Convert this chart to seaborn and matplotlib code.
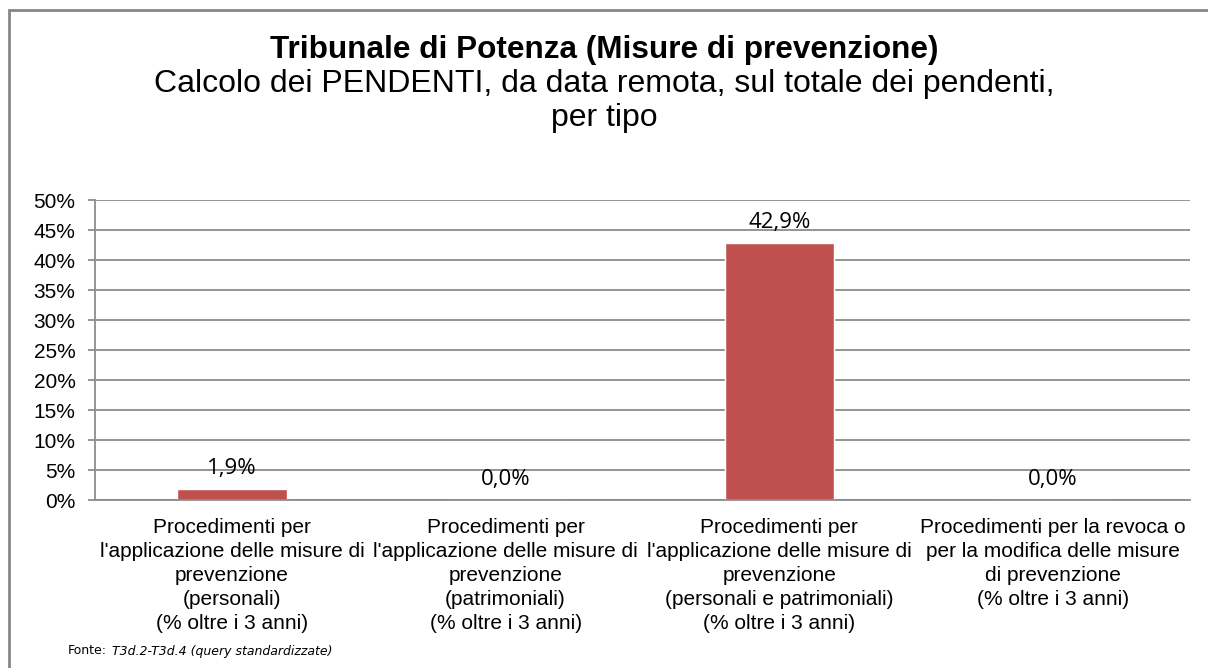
import matplotlib
matplotlib.use("Agg")
import matplotlib.pyplot as plt
import numpy as np
import pandas as pd
import seaborn as sns
from matplotlib.patches import Rectangle

categories = [
    "Procedimenti per\nl'applicazione delle misure di\nprevenzione\n(personali)\n(% oltre i 3 anni)",
    "Procedimenti per\nl'applicazione delle misure di\nprevenzione\n(patrimoniali)\n(% oltre i 3 anni)",
    "Procedimenti per\nl'applicazione delle misure di\nprevenzione\n(personali e patrimoniali)\n(% oltre i 3 anni)",
    "Procedimenti per la revoca o\nper la modifica delle misure\ndi prevenzione\n(% oltre i 3 anni)",
]
values = [1.9, 0.0, 42.9, 0.0]
value_labels = ["1,9%", "0,0%", "42,9%", "0,0%"]
yticks = [0, 5, 10, 15, 20, 25, 30, 35, 40, 45, 50]

sns.set_theme(style="white")
plt.rcParams["font.family"] = ["Liberation Sans", "DejaVu Sans"]
plt.rcParams["text.color"] = "black"
plt.rcParams["xtick.color"] = "black"
plt.rcParams["ytick.color"] = "black"

W, H = 1208, 668
fig = plt.figure(figsize=(W / 100, H / 100), dpi=100)
# chart frame (runs off the right and bottom edges in the reference)
fig.patches.append(Rectangle((9 / W, -0.05), 1.2, 1.05 - 10 / H, transform=fig.transFigure,
                             fill=False, edgecolor="#868686", linewidth=2))

ax = fig.add_axes([95 / W, (H - 500) / H, (1190 - 95) / W, 300 / H])
df = pd.DataFrame({"cat": categories, "val": values})
sns.barplot(data=df, x="cat", y="val", color="#C0504D", width=0.4, saturation=1, ax=ax)

ax.set_ylim(0, 50)
ax.set_xlim(-0.5, 3.5)
ax.set_yticks(yticks)
ax.set_yticklabels([f"{t}%" for t in yticks], fontsize=15)
ax.yaxis.grid(True, color="#8c8c8c", linewidth=1.3)
ax.set_axisbelow(True)
ax.set_xlabel("")
ax.set_ylabel("")
for s in ["top", "right"]:
    ax.spines[s].set_visible(False)
for s in ["left", "bottom"]:
    ax.spines[s].set_color("#8c8c8c")
    ax.spines[s].set_linewidth(1.3)

ax.set_xticks([0, 1, 2, 3])
ax.set_xticklabels(categories, fontsize=15, linespacing=1.33)
ax.tick_params(axis="x", length=0, pad=13)
ax.set_xticks([-0.5, 0.5, 1.5, 2.5, 3.5], minor=True)
ax.tick_params(axis="x", which="minor", length=6, color="#8c8c8c", width=1.3)
ax.tick_params(axis="y", length=5, color="#8c8c8c", width=1.3, pad=9, left=True)

for i, (v, lab) in enumerate(zip(values, value_labels)):
    ax.annotate(lab, (i, v), xytext=(0, 7), textcoords="offset points",
                ha="center", va="bottom", fontsize=16,
                family=["Open Sans", "DejaVu Sans"])

fig.text(0.5, 1 - 50 / H, "Tribunale di Potenza (Misure di prevenzione)",
         ha="center", va="center", fontsize=22.7, fontweight="bold")
fig.text(0.5, 1 - 84 / H, "Calcolo dei PENDENTI, da data remota, sul totale dei pendenti,",
         ha="center", va="center", fontsize=23)
fig.text(0.5, 1 - 118 / H, "per tipo", ha="center", va="center", fontsize=23)

fig.text(68 / W, 1 - 651 / H, "Fonte:", ha="left", va="center", fontsize=9,
         family=["DejaVu Sans"])
fig.text(112 / W, 1 - 651 / H, "T3d.2-T3d.4 (query standardizzate)", ha="left", va="center",
         fontsize=9, style="italic", family=["DejaVu Sans"])

fig.savefig("out.png", dpi=100)
